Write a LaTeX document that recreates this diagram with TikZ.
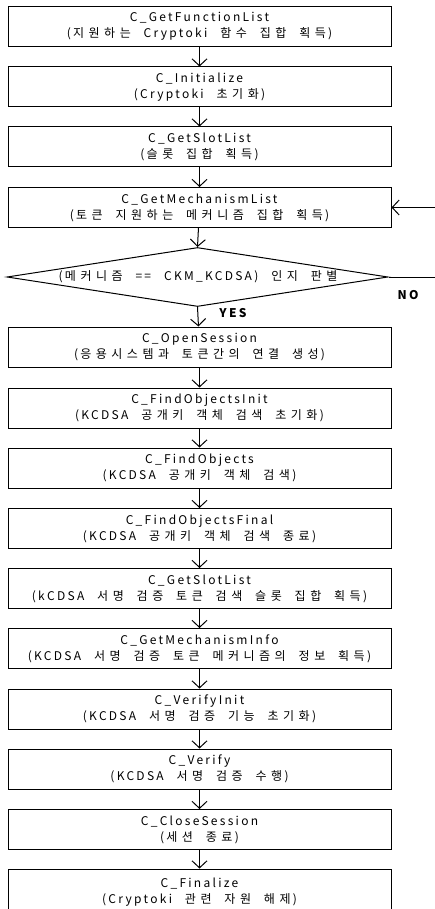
\documentclass[tikz,border=0pt]{standalone}
\usepackage{fontspec}
\setmainfont{Noto Sans CJK KR}[LetterSpace=19,WordSpace=2.6]
\usepackage{tikz}
\usetikzlibrary{arrows.meta,shapes.geometric}
% extra room between Hangul syllables
\XeTeXinterchartokenstate=1
\newXeTeXintercharclass\hangulclass
\count255="AC00
\loop\XeTeXcharclass\count255=\hangulclass
\ifnum\count255<"D7A3 \advance\count255 by 1 \repeat
\XeTeXinterchartoks \hangulclass \hangulclass = {\kern4.5pt}

\begin{document}
\begin{tikzpicture}[x=1pt,y=-1pt,
  stepbox/.style={draw,line width=1pt,minimum width=383pt,minimum height=40pt,inner sep=0pt,align=center,font=\fontsize{12}{16}\selectfont},
  decision/.style={draw,line width=1pt,diamond,minimum width=381pt,minimum height=59pt,inner sep=0pt,aspect=6.5},
  flow/.style={line width=1pt,-{Straight Barb[length=7pt,width=15pt]}}]
\useasboundingbox (0,0) rectangle (435,909);
\node[stepbox] (getfunc) at (199.5,26.5) {C\_GetFunctionList\\(지원하는 Cryptoki 함수 집합 획득)};
\node[stepbox] (init) at (199.5,87) {C\_Initialize\\(Cryptoki 초기화)};
\node[stepbox] (slot) at (199.5,147) {C\_GetSlotList\\(슬롯 집합 획득)};
\node[stepbox] (mechlist) at (199.5,207.5) {C\_GetMechanismList\\(토큰 지원하는 메커니즘 집합 획득)};
\node[decision] (chk) at (197.5,277) {};
\node[font=\fontsize{12}{16}\selectfont] (chktext) at (198,277) {(메커니즘 == CKM\_KCDSA) 인지 판별};
\node[stepbox] (open) at (199.5,347) {C\_OpenSession\\(응용시스템과 토큰간의 연결 생성)};
\node[stepbox] (findinit) at (199.5,408) {C\_FindObjectsInit\\(KCDSA 공개키 객체 검색 초기화)};
\node[stepbox] (find) at (199.5,468) {C\_FindObjects\\(KCDSA 공개키 객체 검색)};
\node[stepbox] (findfinal) at (199.5,528.5) {C\_FindObjectsFinal\\(KCDSA 공개키 객체 검색 종료)};
\node[stepbox] (slot2) at (199.5,588.5) {C\_GetSlotList\\(kCDSA 서명 검증 토큰 검색 슬롯 집합 획득)};
\node[stepbox] (mechinfo) at (199.5,648.5) {C\_GetMechanismInfo\\(KCDSA 서명 검증 토큰 메커니즘의 정보 획득)};
\node[stepbox] (verinit) at (199.5,709) {C\_VerifyInit\\(KCDSA 서명 검증 기능 초기화)};
\node[stepbox] (verify) at (199.5,769) {C\_Verify\\(KCDSA 서명 검증 수행)};
\node[stepbox] (close) at (199.5,829.5) {C\_CloseSession\\(세션 종료)};
\node[stepbox,minimum height=46pt] (final) at (199.5,892) {C\_Finalize\\(Cryptoki 관련 자원 해제)};
\coordinate (noend) at (436,277);
\coordinate (back) at (436,207.5);
\draw[flow] (getfunc) -- (init);
\draw[flow] (init) -- (slot);
\draw[flow] (slot) -- (mechlist);
\draw[flow] (mechlist) -- (chk.north);
\draw[flow] (chk.south) -- (open);
\draw[flow] (open) -- (findinit);
\draw[flow] (findinit) -- (find);
\draw[flow] (find) -- (findfinal);
\draw[flow] (findfinal) -- (slot2);
\draw[flow] (slot2) -- (mechinfo);
\draw[flow] (mechinfo) -- (verinit);
\draw[flow] (verinit) -- (verify);
\draw[flow] (verify) -- (close);
\draw[flow] (close) -- (final);
\draw[line width=1pt] (chk.east) -- (noend);
\draw[flow] (back) -- (mechlist.east);
\node[font=\bfseries\fontsize{12}{14}\selectfont] (no) at (408,295) {NO};
\node[font=\bfseries\fontsize{12}{14}\selectfont] (yes) at (233,313) {YES};
\end{tikzpicture}
\end{document}
